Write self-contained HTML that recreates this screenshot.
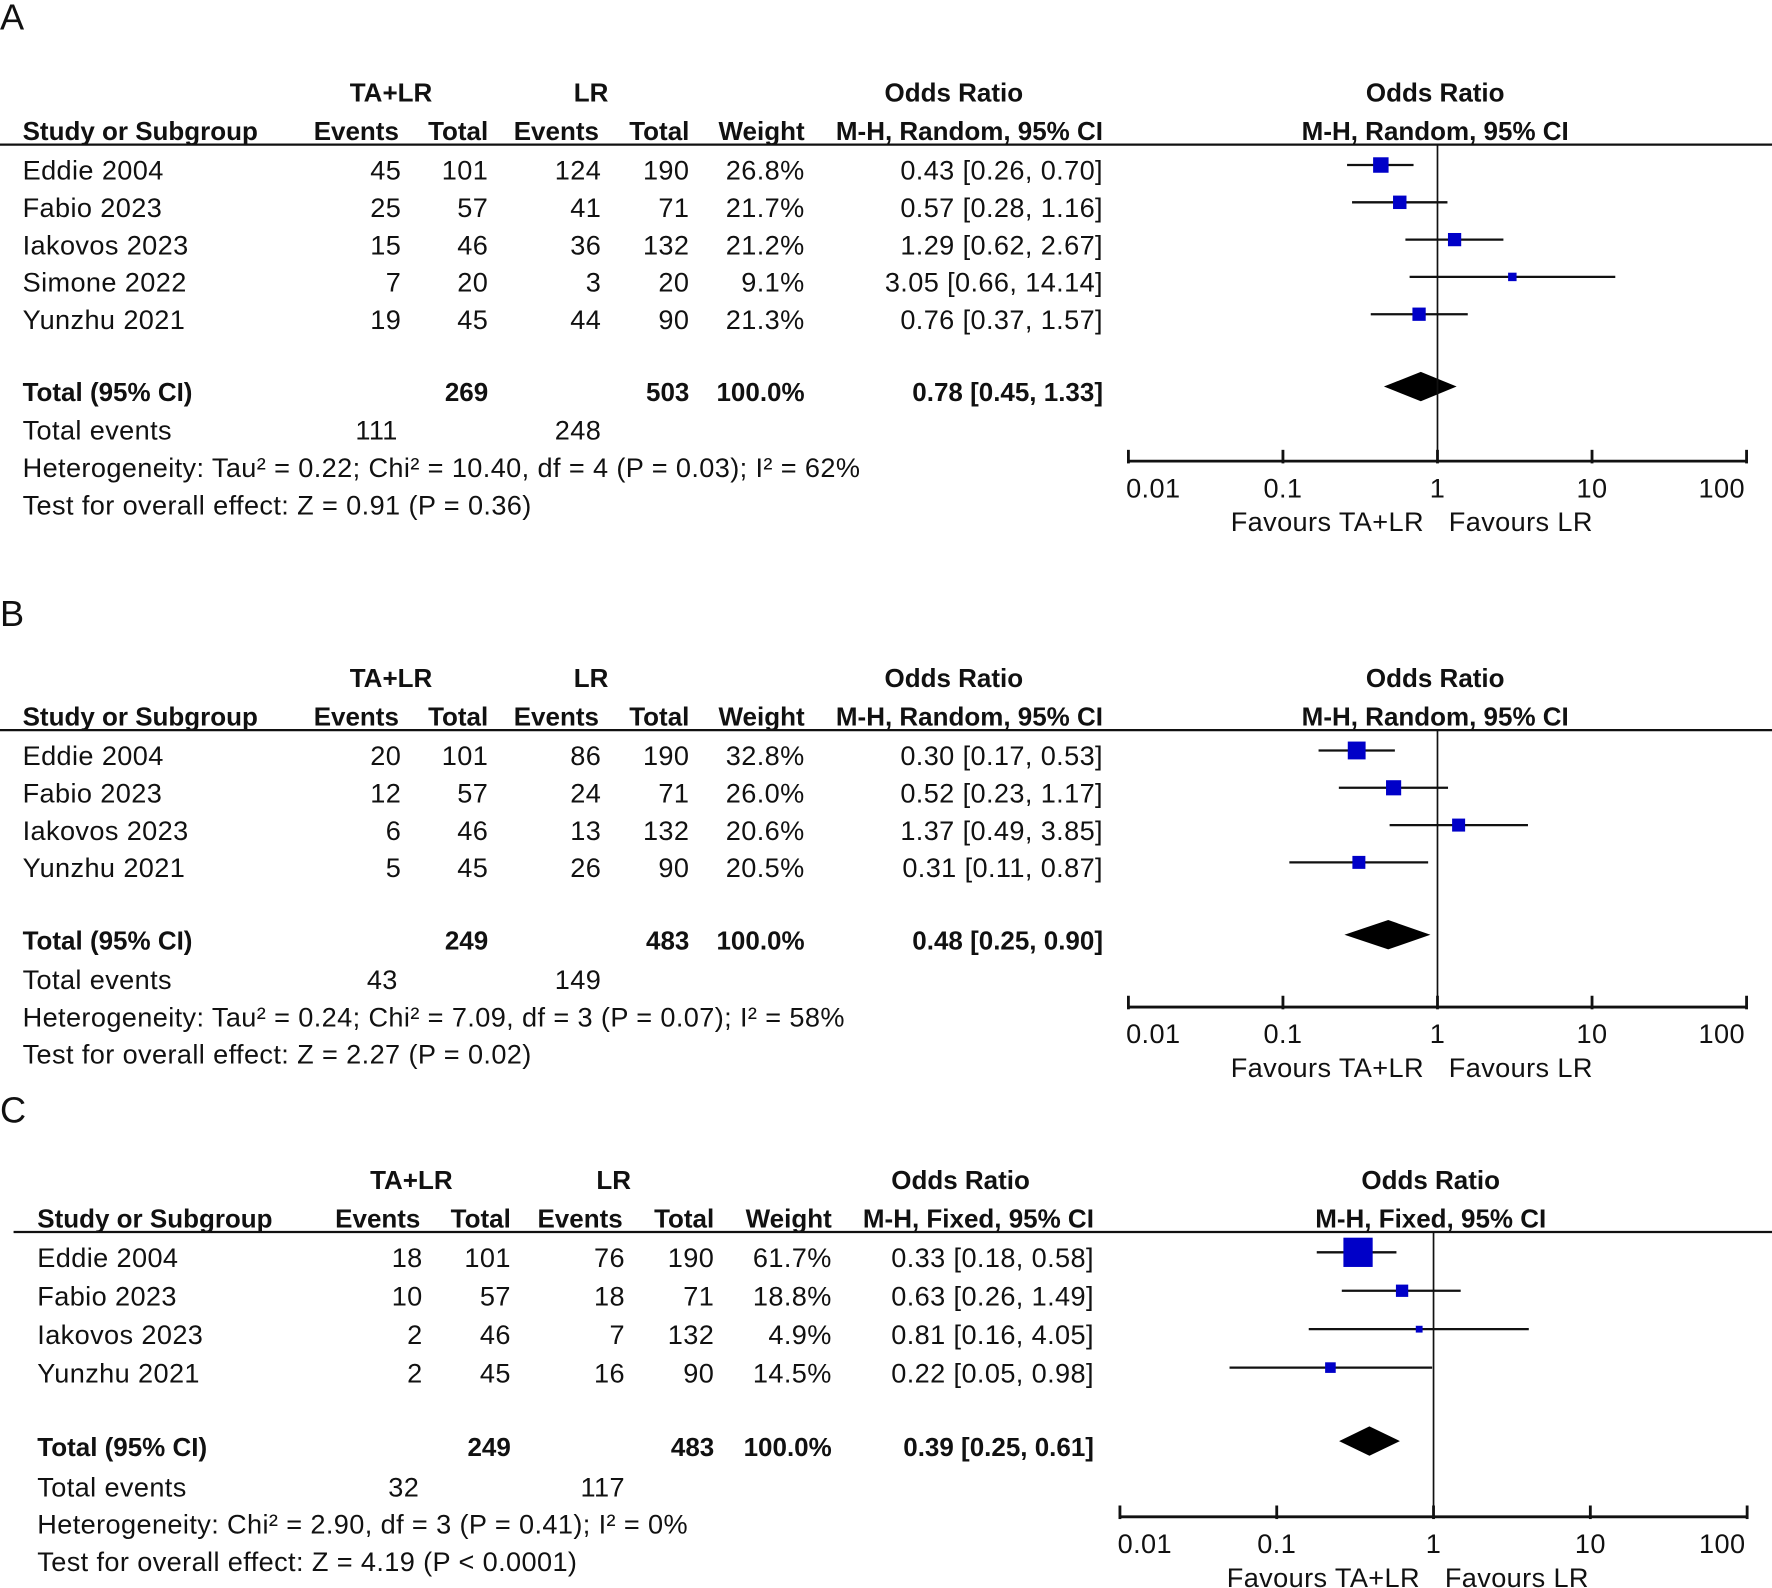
<!DOCTYPE html>
<html><head><meta charset="utf-8"><style>
html,body{margin:0;padding:0;background:#fff;}
svg{display:block;}
text{font-family:"Liberation Sans",Arial,sans-serif;fill:#111;letter-spacing:0.35px;}
.b{font-weight:bold;letter-spacing:0;}
</style></head><body>
<svg id="chart" width="1772" height="1588" viewBox="0 0 1568 1405" preserveAspectRatio="none" xmlns="http://www.w3.org/2000/svg"></svg>
<script>
// ---- Panel A data ----
const aNames=["Eddie 2004","Fabio 2023","Iakovos 2023","Simone 2022","Yunzhu 2021"];
const aE1=[45,25,15,7,19];
const aN1=[101,57,46,20,45];
const aE2=[124,41,36,3,44];
const aN2=[190,71,132,20,90];
const aW=[26.8,21.7,21.2,9.1,21.3];
const aOR=[0.43,0.57,1.29,3.05,0.76];
const aLo=[0.26,0.28,0.62,0.66,0.37];
const aHi=[0.70,1.16,2.67,14.14,1.57];
const aTot=[269,503,0.78,0.45,1.33,111,248];
const aHet="Heterogeneity: Tau² = 0.22; Chi² = 10.40, df = 4 (P = 0.03); I² = 62%";
const aTest="Test for overall effect: Z = 0.91 (P = 0.36)";
// ---- Panel B data ----
const bNames=["Eddie 2004","Fabio 2023","Iakovos 2023","Yunzhu 2021"];
const bE1=[20,12,6,5];
const bN1=[101,57,46,45];
const bE2=[86,24,13,26];
const bN2=[190,71,132,90];
const bW=[32.8,26.0,20.6,20.5];
const bOR=[0.30,0.52,1.37,0.31];
const bLo=[0.17,0.23,0.49,0.11];
const bHi=[0.53,1.17,3.85,0.87];
const bTot=[249,483,0.48,0.25,0.90,43,149];
const bHet="Heterogeneity: Tau² = 0.24; Chi² = 7.09, df = 3 (P = 0.07); I² = 58%";
const bTest="Test for overall effect: Z = 2.27 (P = 0.02)";
// ---- Panel C data ----
const cNames=["Eddie 2004","Fabio 2023","Iakovos 2023","Yunzhu 2021"];
const cE1=[18,10,2,2];
const cN1=[101,57,46,45];
const cE2=[76,18,7,16];
const cN2=[190,71,132,90];
const cW=[61.7,18.8,4.9,14.5];
const cOR=[0.33,0.63,0.81,0.22];
const cLo=[0.18,0.26,0.16,0.05];
const cHi=[0.58,1.49,4.05,0.98];
const cTot=[249,483,0.39,0.25,0.61,32,117];
const cHet="Heterogeneity: Chi² = 2.90, df = 3 (P = 0.41); I² = 0%";
const cTest="Test for overall effect: Z = 4.19 (P < 0.0001)";
const tickVals=[0.01,0.1,1,10,100];
const tickLabels=["0.01","0.1","1","10","100"];

const svg=document.getElementById('chart');
const NS="http://www.w3.org/2000/svg";
function mk(tag,attrs,parent){const e=document.createElementNS(NS,tag);for(const k in attrs)e.setAttribute(k,attrs[k]);(parent||svg).appendChild(e);return e;}
function txt(s,x,y,anchor,cls,size,parent){const t=mk('text',{x:x,y:y,'text-anchor':anchor||'start','font-size':size||24},parent);if(cls)t.setAttribute('class',cls);t.textContent=s;return t;}
const f2=v=>v.toFixed(2);

function panel(L,names,e1,n1,e2,n2,w,or,lo,hi,tot,het,test,method){
  const g=mk('g',{});
  
  
  const lab=txt(L.label,0,L.y0,'start',null,32,g);
  lab.setAttribute('font-family','Liberation Serif, serif');
  
  
  const C=L.cols;
  const h1=L.y0+64+L.hy, h2=h1+34;
  let t;
  t=txt('TA+LR',L.grp1,h1,'middle','b',23,g);
  t=txt('LR',L.grp2,h1,'middle','b',23,g);
  t=txt('Odds Ratio',L.orc,h1,'middle','b',23,g);
  t=txt('Odds Ratio',L.plc,h1,'middle','b',23,g);
  const hdr=['Events','Total','Events','Total','Weight','M-H, '+method+', 95% CI'];
  t=txt('Study or Subgroup',L.nx,h2,'start','b',23,g);
  hdr.forEach((s,i)=>{const tt=txt(s,C[i],h2,'end','b',23,g);});
  t=txt('M-H, '+method+', 95% CI',L.plc,h2,'middle','b',23,g);
  const lineY=h2+4;
  const hl=mk('line',{x1:L.lx,x2:1568,y1:lineY,y2:lineY,stroke:'#111','stroke-width':2},g);
  
  const X=v=>L.x1+Math.log10(v)*L.dec;
  const rowY=i=>lineY+23+i*L.rs+8;
  names.forEach((nm,i)=>{
    const y=rowY(i);
    const r=mk('g',{},g);
    
    txt(nm,L.nx,y,'start',null,24,r);
    txt(String(e1[i]),C[0]+2,y,'end',null,24,r);
    txt(String(n1[i]),C[1],y,'end',null,24,r);
    txt(String(e2[i]),C[2]+2,y,'end',null,24,r);
    txt(String(n2[i]),C[3],y,'end',null,24,r);
    txt(w[i].toFixed(1)+'%',C[4],y,'end',null,24,r);
    txt(f2(or[i])+' ['+f2(lo[i])+', '+f2(hi[i])+']',C[5],y,'end',null,24,r);
    const cy=y-13;
    const ci=mk('line',{x1:X(lo[i]),x2:X(hi[i]),y1:cy,y2:cy,stroke:'#111','stroke-width':2},g);
    
    const s=4.3+0.35*w[i];
    const sq=mk('rect',{x:X(or[i])-s/2,y:cy-s/2,width:s,height:s,fill:'#0000c8'},g);
    
  });
  const ty=rowY(names.length-1)+L.totGap;
  const tr=mk('g',{},g);
  
  txt('Total (95% CI)',L.nx,ty,'start','b',23,tr);
  txt(String(tot[0]),C[1],ty,'end','b',23,tr);
  txt(String(tot[1]),C[3],ty,'end','b',23,tr);
  txt('100.0%',C[4],ty,'end','b',23,tr);
  txt(f2(tot[2])+' ['+f2(tot[3])+', '+f2(tot[4])+']',C[5],ty,'end','b',23,tr);
  const dy=ty-13;
  const dm=mk('polygon',{points:`${X(tot[3])},${dy} ${X(tot[2])},${dy-13} ${X(tot[4])},${dy} ${X(tot[2])},${dy+13}`,fill:'#000'},g);
  
  const ey=ty+L.ls;
  const er=mk('g',{},g);
  
  txt('Total events',L.nx,ey,'start',null,24,er);
  txt(String(tot[5]),C[0]-1,ey,'end',null,24,er);
  txt(String(tot[6]),C[2]+2,ey,'end',null,24,er);
  t=txt(het,L.nx,ey+33,'start',null,24,g);
  t=txt(test,L.nx,ey+66,'start',null,24,g);
  const ay=ey+L.axOff;
  const vl=mk('line',{x1:X(1),x2:X(1),y1:lineY,y2:ay,stroke:'#111','stroke-width':1.5},g);
  
  const ax=mk('line',{x1:X(0.01),x2:X(100),y1:ay,y2:ay,stroke:'#111','stroke-width':2.5},g);
  
  tickVals.forEach((v,i)=>{
    const tk=mk('line',{x1:X(v),x2:X(v),y1:ay-10,y2:ay+2,stroke:'#111','stroke-width':2.5},g);
    
    const tl=txt(tickLabels[i],X(v)+(i==0?22:i==4?-22:0),ay+32,'middle',null,24,g);
    
  });
  t=txt('Favours TA+LR',X(1)-12,ay+62,'end',null,24,g);
  t=txt('Favours LR',X(1)+10,ay+62,'start',null,24,g);
}
const colsAB=[353,432,530,610,712,976];
panel({label:'A',y0:26,hy:0,grp1:346,grp2:523,orc:844,plc:1270,nx:20,lx:0,cols:colsAB,x1:1272,dec:136.75,rs:33,totGap:64,ls:34,axOff:19},
  aNames,aE1,aN1,aE2,aN2,aW,aOR,aLo,aHi,aTot,aHet,aTest,'Random');
panel({label:'B',y0:554,hy:-10,grp1:346,grp2:523,orc:844,plc:1270,nx:20,lx:0,cols:colsAB,x1:1272,dec:136.75,rs:33,totGap:64,ls:35,axOff:16},
  bNames,bE1,bN1,bE2,bN2,bW,bOR,bLo,bHi,bTot,bHet,bTest,'Random');
panel({label:'C',y0:993,hy:-5,grp1:364,grp2:543,orc:850,plc:1266,nx:33,lx:12,cols:[372,452,551,632,736,968],x1:1268.5,dec:138.75,rs:34,totGap:65,ls:36,axOff:18},
  cNames,cE1,cN1,cE2,cN2,cW,cOR,cLo,cHi,cTot,cHet,cTest,'Fixed');
</script>
</body></html>
